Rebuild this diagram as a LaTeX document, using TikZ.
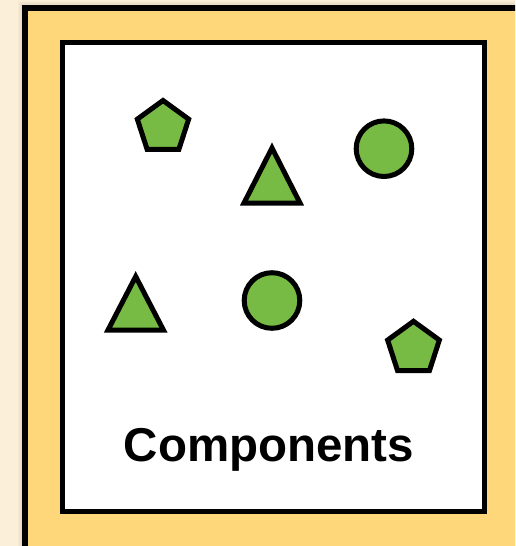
\documentclass[tikz,border=0pt]{standalone}
\usepackage{fontspec}
\setmainfont{Liberation Sans}
\definecolor{cream}{HTML}{FCEFDA}
\definecolor{panel}{HTML}{FDD77A}
\definecolor{shapegreen}{HTML}{77BB44}
\begin{document}
\begin{tikzpicture}[x=1pt,y=-1pt,
  shapestyle/.style={draw=black,fill=shapegreen,line width=5pt,line join=miter},
  boxline/.style={draw=black,line join=miter}]
\useasboundingbox (0,0) rectangle (515,546);
\clip (0,0) rectangle (515,546);
\fill[cream] (0,0) rectangle (515,546);
% soft shadow
\foreach \i in {1,...,7}{
  \fill[black,opacity=0.018] (25-\i,8-\i) rectangle (530,560);
}
% outer panel
\path[boxline,fill=panel,line width=6pt] (25,8) rectangle (530,549);
% inner white box
\path[boxline,fill=white,line width=5pt] (62.5,42.5) rectangle (484.5,511.5);
% pentagons
\path (163,127.5) ++(-90:27) coordinate (p1a)
  (163,127.5) ++(-18:27) coordinate (p1b)
  (163,127.5) ++(54:27) coordinate (p1c)
  (163,127.5) ++(126:27) coordinate (p1d)
  (163,127.5) ++(198:27) coordinate (p1e);
\path[shapestyle] (p1a) -- (p1b) -- (p1c) -- (p1d) -- (p1e) -- cycle;
\path (413.5,348.5) ++(-90:27.2) coordinate (p2a)
  (413.5,348.5) ++(-18:27.2) coordinate (p2b)
  (413.5,348.5) ++(54:27.2) coordinate (p2c)
  (413.5,348.5) ++(126:27.2) coordinate (p2d)
  (413.5,348.5) ++(198:27.2) coordinate (p2e);
\path[shapestyle] (p2a) -- (p2b) -- (p2c) -- (p2d) -- (p2e) -- cycle;
% triangles
\coordinate (t1a) at (272,148);
\coordinate (t1b) at (300,203);
\coordinate (t1c) at (244,203);
\path[shapestyle] (t1a) -- (t1b) -- (t1c) -- cycle;
\coordinate (t2a) at (135.7,276.5);
\coordinate (t2b) at (163.4,330);
\coordinate (t2c) at (108,330);
\path[shapestyle] (t2a) -- (t2b) -- (t2c) -- cycle;
% circles
\path[shapestyle] (384,148.7) circle[radius=27.8];
\path[shapestyle] (272,300.5) circle[radius=27.8];
% label
\node[anchor=base,inner sep=0pt,font=\fontsize{47.5pt}{50pt}\selectfont\bfseries] (label) at (269,461.7) {Components};
\end{tikzpicture}
\end{document}
